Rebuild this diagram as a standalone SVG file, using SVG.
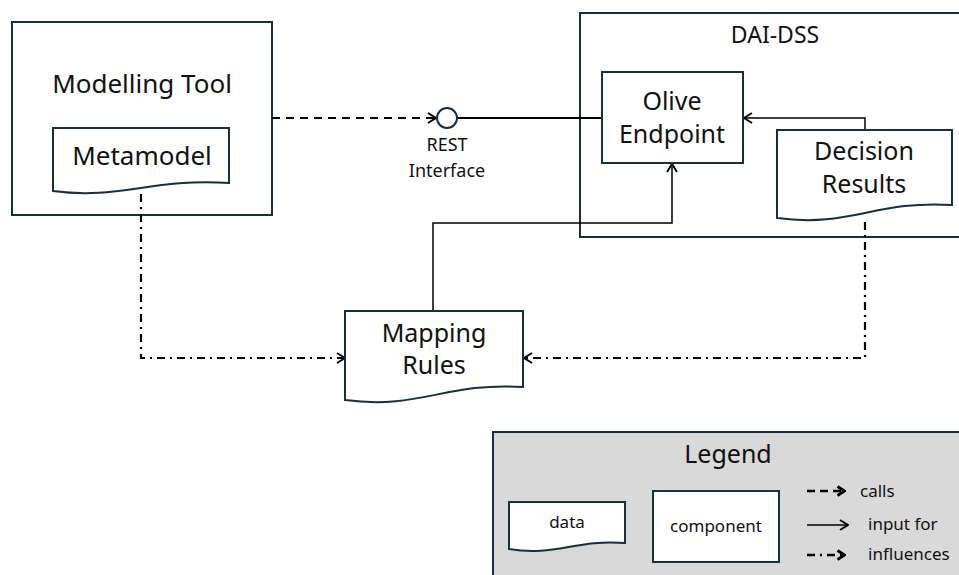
<svg xmlns="http://www.w3.org/2000/svg" width="959" height="575" viewBox="0 0 959 575">
  <defs>
    <style>
      text { font-family: "Noto Sans", "Liberation Sans", sans-serif; fill: #111; text-anchor: middle; }
      .box { fill: #fff; stroke: #17303f; stroke-width: 2; }
      .frame { fill: none; stroke: #17303f; stroke-width: 2; }
      .legend { fill: #d9d9d9; stroke: #17303f; stroke-width: 2; }
      .calls { fill: none; stroke: #000; stroke-width: 2.2; stroke-dasharray: 8 6; }
      .input { fill: none; stroke: #000; stroke-width: 1.5; }
      .infl { fill: none; stroke: #000; stroke-width: 2.2; stroke-dasharray: 8 5 2 5; }
      .lbl { font-size: 25px; }
      .small { font-size: 17px; }
      .start { text-anchor: start; }
    </style>
    <marker id="open" viewBox="0 0 10 12" refX="9" refY="6" markerWidth="10" markerHeight="12" markerUnits="userSpaceOnUse" orient="auto">
      <path d="M1,1 L9,6 L1,11" fill="none" stroke="#000" stroke-width="2"/>
    </marker>
    <marker id="bold" viewBox="0 0 10 12" refX="9" refY="6" markerWidth="10" markerHeight="12" markerUnits="userSpaceOnUse" orient="auto">
      <path d="M1.5,1.5 L8.5,6 L1.5,10.5" fill="none" stroke="#000" stroke-width="2.8"/>
    </marker>
  </defs>

  <!-- containers -->
  <g id="modelling-tool">
    <rect class="frame" x="12" y="22" width="260" height="193"/>
    <text x="142" y="93" font-size="26">Modelling Tool</text>
  </g>
  <g id="dai-dss">
    <rect class="frame" x="580" y="13" width="400" height="224"/>
    <text x="775" y="43" font-size="23">DAI-DSS</text>
  </g>

  <!-- connectors -->
  <g id="connectors">
    <line class="calls" x1="272" y1="118" x2="436" y2="118" marker-end="url(#open)"/>
    <line x1="457" y1="118" x2="602" y2="118" stroke="#000" stroke-width="2"/>
    <polyline class="input" points="865,130 865,118 744,118" marker-end="url(#open)"/>
    <polyline class="input" points="433,311 433,223 672,223 672,164" marker-end="url(#open)"/>
    <polyline class="infl" points="141,194 141,358 345,358" marker-end="url(#open)"/>
    <polyline class="infl" points="865,222 865,358 524,358" marker-end="url(#open)"/>
  </g>

  <g id="rest-interface">
    <circle cx="447" cy="118" r="10" fill="#fff" stroke="#17303f" stroke-width="2"/>
    <text x="447" y="151" font-size="18">REST</text>
    <text x="447" y="177" font-size="18">Interface</text>
  </g>

  <g id="metamodel">
    <path class="box" d="M53,128 H229 V183 C150,178 120,200 53,191 Z"/>
    <text x="142" y="165" font-size="26">Metamodel</text>
  </g>

  <g id="olive-endpoint">
    <rect class="box" x="602" y="72" width="141" height="91"/>
    <text class="lbl" x="672" y="110">Olive</text>
    <text class="lbl" x="672" y="143">Endpoint</text>
  </g>

  <g id="decision-results">
    <path class="box" d="M777,130 H952 V205 C875,200 850,228 777,218 Z"/>
    <text class="lbl" x="864" y="160">Decision</text>
    <text class="lbl" x="864" y="193">Results</text>
  </g>

  <g id="mapping-rules">
    <path class="box" d="M345,311 H523 V387 C445,382 420,410 345,400 Z"/>
    <text class="lbl" x="434" y="342">Mapping</text>
    <text class="lbl" x="434" y="374">Rules</text>
  </g>

  <!-- legend -->
  <g id="legend">
    <rect class="legend" x="493" y="432" width="500" height="160"/>
    <text x="728" y="463" font-size="25">Legend</text>
    <path class="box" d="M509,502 H625 V543 C575,539 555,557 509,549 Z"/>
    <text class="small" x="567" y="528">data</text>
    <rect class="box" x="653" y="491" width="126" height="71"/>
    <text class="small" x="716" y="532">component</text>
    <line x1="807" y1="491" x2="845" y2="491" stroke="#000" stroke-width="2.5" stroke-dasharray="8 5" marker-end="url(#bold)"/>
    <text class="small start" x="860" y="497">calls</text>
    <line class="input" x1="807" y1="525" x2="848" y2="525" marker-end="url(#open)"/>
    <text class="small start" x="868" y="530">input for</text>
    <line x1="807" y1="555" x2="845" y2="555" stroke="#000" stroke-width="2.5" stroke-dasharray="8 5 2 5" marker-end="url(#bold)"/>
    <text class="small start" x="868" y="560">influences</text>
  </g>
</svg>
